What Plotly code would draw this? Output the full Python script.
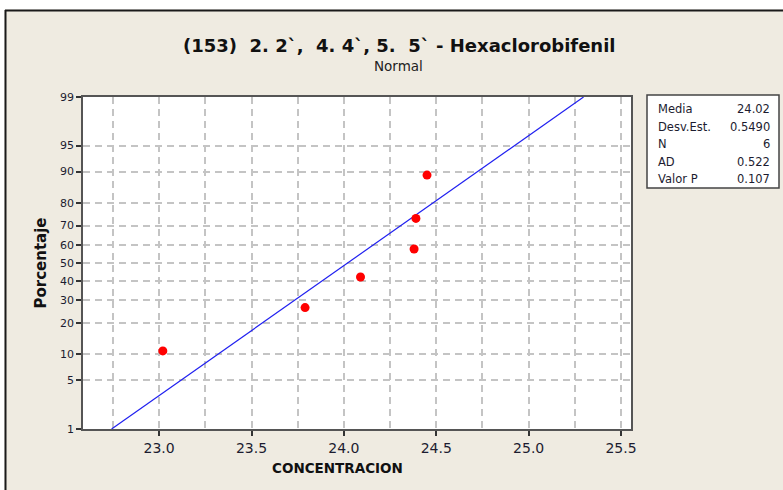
import plotly.graph_objects as go
from statistics import NormalDist

# Observed concentrations and their plotting positions (percent)
concentracion = [23.02, 23.79, 24.09, 24.38, 24.39, 24.45]
porcentaje = [10.9, 26.6, 42.2, 57.8, 73.4, 89.1]

# Summary statistics of the fitted normal distribution
media = 24.02
desv_est = 0.5490
n_obs = 6
ad = 0.522
valor_p = 0.107

stat_labels = ["Media", "Desv.Est.", "N", "AD", "Valor P"]
stat_values = [f"{media:.2f}", f"{desv_est:.4f}", f"{n_obs}", f"{ad:.3f}", f"{valor_p:.3f}"]

x_ticks = [23.0, 23.5, 24.0, 24.5, 25.0, 25.5]
x_tick_labels = ["23.0", "23.5", "24.0", "24.5", "25.0", "25.5"]
x_minor_grid = [22.75, 23.25, 23.75, 24.25, 24.75, 25.25]
y_ticks = [1, 5, 10, 20, 30, 40, 50, 60, 70, 80, 90, 95, 99]
y_tick_labels = ["1", "5", "10", "20", "30", "40", "50", "60", "70", "80", "90", "95", "99"]

nd = NormalDist()


def zq(p):
    return nd.inv_cdf(p / 100.0)


W, H = 783, 490
L, R, T, B = 83, 152, 97, 61
PW, PH = W - L - R, H - T - B


def px(x):
    return (x - L) / PW


def py(y):
    return (H - B - y) / PH


BEIGE = "#EFEBE1"
TXT = "#1c1c30"
GRID = "#C4C4C4"
FONT = "DejaVu Sans"

fig = go.Figure()

# fitted normal line between the 1% and 99% quantiles
z_lo, z_hi = zq(y_ticks[0]), zq(y_ticks[-1])
fig.add_trace(go.Scatter(
    x=[media + desv_est * z_lo, media + desv_est * z_hi],
    y=[z_lo, z_hi],
    mode="lines",
    line=dict(color="#2020F0", width=1.2),
    hoverinfo="skip",
    showlegend=False,
))

fig.add_trace(go.Scatter(
    x=concentracion,
    y=[zq(p) for p in porcentaje],
    mode="markers",
    marker=dict(color="#FF0000", size=9, line=dict(width=0)),
    showlegend=False,
))

fig.update_xaxes(
    range=[22.588, 25.554],
    tickvals=x_ticks, ticktext=x_tick_labels,
    ticks="outside", ticklen=5, tickwidth=1.5, tickcolor="#333",
    tickfont=dict(family=FONT, size=14, color=TXT),
    showline=True, mirror=True, linecolor="#555", linewidth=1.5,
    showgrid=True, gridcolor=GRID, gridwidth=1.5, griddash="7px,5px",
    minor=dict(tickvals=x_minor_grid, showgrid=True, gridcolor=GRID,
               gridwidth=1.5, griddash="7px,5px", ticks=""),
    zeroline=False,
)

fig.update_yaxes(
    range=[z_lo, z_hi],
    tickvals=[zq(p) for p in y_ticks], ticktext=y_tick_labels,
    ticks="outside", ticklen=5, tickwidth=1.5, tickcolor="#333",
    tickfont=dict(family=FONT, size=11, color=TXT),
    showline=True, mirror=True, linecolor="#555", linewidth=1.5,
    showgrid=True, gridcolor=GRID, gridwidth=1.5, griddash="7px,5px",
    zeroline=False,
)

shapes = [
    # white margin strips and the black window frame
    dict(type="rect", xref="paper", yref="paper", x0=px(-10), x1=px(W + 10),
         y0=py(9.5), y1=py(-10), fillcolor="white", line=dict(width=0)),
    dict(type="rect", xref="paper", yref="paper", x0=px(-10), x1=px(4.5),
         y0=py(H + 10), y1=py(-10), fillcolor="white", line=dict(width=0)),
    dict(type="line", xref="paper", yref="paper", x0=px(5), x1=px(W + 10),
         y0=py(10.5), y1=py(10.5), line=dict(color="#1a1a1a", width=2)),
    dict(type="line", xref="paper", yref="paper", x0=px(5.5), x1=px(5.5),
         y0=py(10), y1=py(H + 10), line=dict(color="#1a1a1a", width=2)),
    # statistics box
    dict(type="rect", xref="paper", yref="paper", x0=px(647), x1=px(779),
         y0=py(188), y1=py(95), fillcolor="white",
         line=dict(color="#444", width=1.5)),
]

annotations = [
    dict(text="(153)\u00a0\u00a02.\u00a02`,\u00a0\u00a04.\u00a04`,\u00a05.\u00a0\u00a05`\u00a0-\u00a0Hexaclorobifenil",
         x=px(399), y=py(45), xanchor="center", yanchor="middle",
         font=dict(family=FONT, size=18, color="#111"), showarrow=False,
         xref="paper", yref="paper"),
    dict(text="Normal", x=px(398.5), y=py(66), xanchor="center", yanchor="middle",
         font=dict(family=FONT, size=13.5, color="#222"), showarrow=False,
         xref="paper", yref="paper"),
    dict(text="<b>CONCENTRACION</b>", x=px(337.5), y=py(468), xanchor="center",
         yanchor="middle", font=dict(family=FONT, size=13.5, color="#111"),
         showarrow=False, xref="paper", yref="paper"),
    dict(text="<b>Porcentaje</b>", x=px(40.5), y=py(263), xanchor="center",
         yanchor="middle", textangle=-90,
         font=dict(family=FONT, size=15, color="#111"),
         showarrow=False, xref="paper", yref="paper"),
]
annotations[0]["text"] = "<b>" + annotations[0]["text"] + "</b>"

row_y = [109, 127, 144, 162, 179]
for lab, val, yy in zip(stat_labels, stat_values, row_y):
    annotations.append(dict(text=lab, x=px(656), y=py(yy), xanchor="left",
                            yanchor="middle", showarrow=False,
                            font=dict(family=FONT, size=11.5, color=TXT),
                            xref="paper", yref="paper"))
    annotations.append(dict(text=val, x=px(771.5), y=py(yy), xanchor="right",
                            yanchor="middle", showarrow=False,
                            font=dict(family=FONT, size=11.5, color=TXT),
                            xref="paper", yref="paper"))

fig.update_layout(
    width=W, height=H,
    margin=dict(l=L, r=R, t=T, b=B, pad=0),
    paper_bgcolor=BEIGE, plot_bgcolor="white",
    shapes=shapes, annotations=annotations,
    showlegend=False,
    font=dict(family=FONT, color=TXT),
)

fig.write_html("out.html")
